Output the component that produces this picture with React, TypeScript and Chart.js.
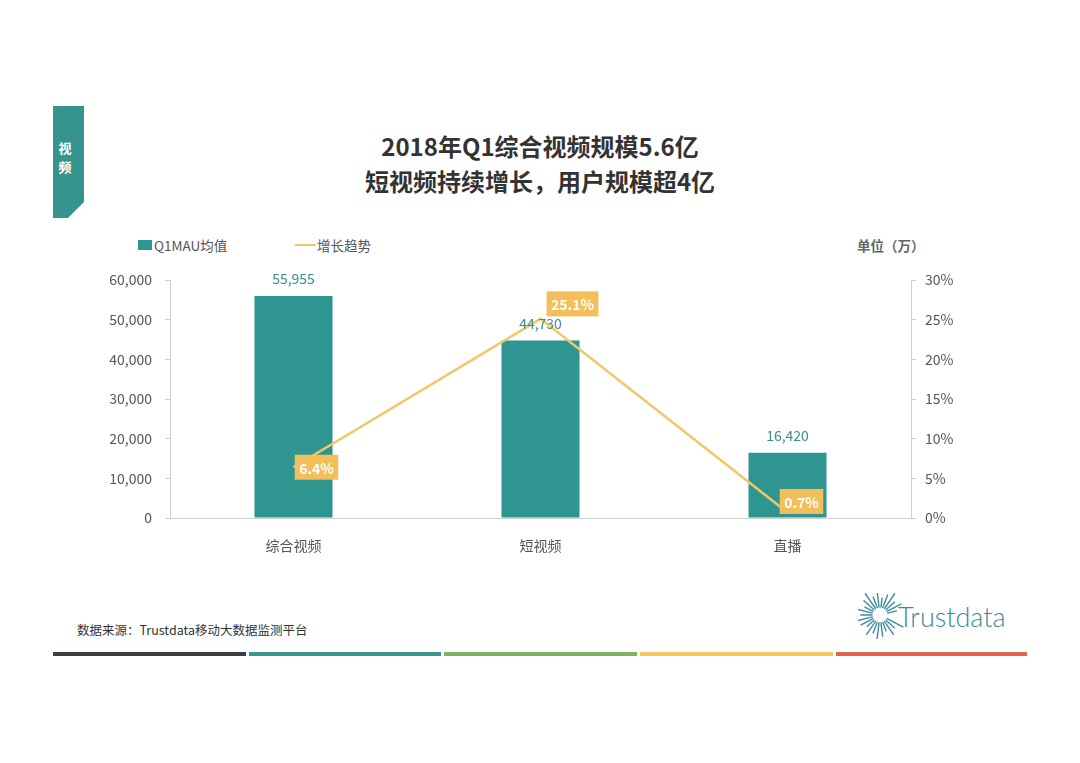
import React, { useEffect, useRef } from "react";
import { Chart, registerables } from "chart.js";

Chart.register(...registerables);

const categories = ["综合视频", "短视频", "直播"];
const mauValues = [55955, 44730, 16420];
const growthValues = [6.4, 25.1, 0.7];
const leftTickMax = 60000;
const leftTickStep = 10000;
const rightTickMax = 30;
const rightTickStep = 5;

const titleLines = ["2018年Q1综合视频规模5.6亿", "短视频持续增长，用户规模超4亿"];
const legendLabels = ["Q1MAU均值", "增长趋势"];
const unitLabel = "单位（万）";
const sourceText = "数据来源：Trustdata移动大数据监测平台";

// styling: where each growth label box sits relative to its point
const growthLabelOffsets = [
  { dx: 23, dy: 0 },
  { dx: 32, dy: -15 },
  { dx: 14, dy: -11 },
];

const TEAL = "#2E9590";
const GOLD = "#F0C86A";
const BOX = "#F2BF5B";
const FONT = "'Noto Sans CJK SC', 'Noto Sans', sans-serif";

const footerBars = [
  { left: 53, width: 193, color: "#3b3f45" },
  { left: 249, width: 192, color: "#3b9690" },
  { left: 444, width: 193, color: "#7db35e" },
  { left: 640, width: 193, color: "#f2c75c" },
  { left: 836, width: 191, color: "#e06352" },
];

const labelPlugin = {
  id: "valueLabels",
  afterDatasetsDraw(chart: any) {
    const ctx = chart.ctx;
    ctx.save();
    const barMeta = chart.getDatasetMeta(0);
    ctx.font = `14px ${FONT}`;
    ctx.fillStyle = "#3a8e8b";
    ctx.textAlign = "center";
    ctx.textBaseline = "middle";
    barMeta.data.forEach((el: any, i: number) => {
      ctx.fillText(mauValues[i].toLocaleString("en-US"), el.x, el.y - 17);
    });
    const lineMeta = chart.getDatasetMeta(1);
    ctx.font = `bold 14px ${FONT}`;
    lineMeta.data.forEach((el: any, i: number) => {
      const txt = growthValues[i].toFixed(1) + "%";
      const w = ctx.measureText(txt).width + 9;
      const h = 25;
      const cx = el.x + growthLabelOffsets[i].dx;
      const cy = el.y + growthLabelOffsets[i].dy;
      ctx.fillStyle = BOX;
      ctx.fillRect(cx - w / 2, cy - h / 2, w, h);
      ctx.fillStyle = "#ffffff";
      ctx.fillText(txt, cx, cy + 1);
    });
    ctx.restore();
  },
};

function ChartCanvas() {
  const ref = useRef<HTMLCanvasElement>(null);
  useEffect(() => {
    if (!ref.current) return;
    const chart = new Chart(ref.current, {
      type: "bar",
      data: {
        labels: categories,
        datasets: [
          {
            type: "bar",
            label: legendLabels[0],
            data: mauValues,
            backgroundColor: TEAL,
            yAxisID: "y",
            barPercentage: 0.316,
            categoryPercentage: 1,
            order: 2,
          },
          {
            type: "line",
            label: legendLabels[1],
            data: growthValues,
            borderColor: GOLD,
            borderWidth: 2.5,
            pointRadius: 0,
            tension: 0,
            yAxisID: "y1",
            order: 1,
          } as any,
        ],
      },
      options: {
        animation: false,
        responsive: false,
        maintainAspectRatio: false,
        layout: { padding: { top: 25, bottom: 0, left: 0, right: 0 } },
        plugins: {
          legend: { display: false },
          tooltip: { enabled: false },
          title: { display: false },
        },
        scales: {
          x: {
            grid: { display: false, drawTicks: false },
            border: { display: true, color: "#d0d0d0" },
            ticks: { padding: 19, color: "#555", font: { family: FONT, size: 14 } },
            afterFit(scale: any) {
              scale.height = 47;
            },
          },
          y: {
            position: "left",
            min: 0,
            max: leftTickMax,
            grid: { drawOnChartArea: false, tickLength: 5, color: "#cfcfcf" },
            border: { display: true, color: "#cfcfcf" },
            ticks: {
              stepSize: leftTickStep,
              padding: 13,
              color: "#555",
              font: { family: FONT, size: 14 },
              callback: (v: any) => Number(v).toLocaleString("en-US"),
            },
            afterFit(scale: any) {
              scale.width = 170;
            },
          },
          y1: {
            position: "right",
            min: 0,
            max: rightTickMax,
            grid: { drawOnChartArea: false, tickLength: 5, color: "#cfcfcf" },
            border: { display: true, color: "#cfcfcf" },
            ticks: {
              stepSize: rightTickStep,
              padding: 9,
              color: "#555",
              font: { family: FONT, size: 14 },
              callback: (v: any) => v + "%",
            },
            afterFit(scale: any) {
              scale.width = 169;
            },
          },
        },
      },
      plugins: [labelPlugin],
    });
    return () => chart.destroy();
  }, []);
  return (
    <canvas
      ref={ref}
      width={1080}
      height={310}
      style={{ position: "absolute", left: 0, top: 255, width: 1080, height: 310 }}
    />
  );
}

function Logo() {
  const rays = [];
  const n = 26;
  for (let i = 0; i < n; i++) {
    const a = (i / n) * Math.PI * 2;
    // leave a gap on the right where the text begins
    const deg = (a * 180) / Math.PI;
    if (deg > -20 && deg < 25) continue;
    const len = 9 + ((i * 7) % 5) * 2.2;
    const r0 = 8;
    rays.push(
      <line
        key={i}
        x1={22 + Math.cos(a) * r0}
        y1={22 + Math.sin(a) * r0}
        x2={22 + Math.cos(a) * (r0 + len)}
        y2={22 + Math.sin(a) * (r0 + len)}
        stroke="#3d8c9e"
        strokeWidth={1.4}
        strokeLinecap="round"
      />
    );
  }
  return (
    <div style={{ position: "absolute", left: 858, top: 593 }}>
      <svg width={46} height={46} style={{ position: "absolute", left: 0, top: 0 }}>
        {rays}
      </svg>
      <div
        style={{
          position: "absolute",
          left: 40,
          top: 9,
          fontFamily: "Lato, 'Open Sans', sans-serif",
          fontWeight: 300,
          fontSize: 27,
          lineHeight: "30px",
          color: "#3a8a98",
          whiteSpace: "nowrap",
        }}
      >
        Trustdata
      </div>
    </div>
  );
}

export default function App() {
  return (
    <div
      style={{
        position: "fixed",
        left: 0,
        top: 0,
        width: 1080,
        height: 763,
        background: "#ffffff",
        overflow: "hidden",
        fontFamily: FONT,
      }}
    >
      {/* side tab */}
      <svg width={40} height={120} style={{ position: "absolute", left: 53, top: 106 }}>
        <polygon points="0,0 31,0 31,96 15,112 0,112" fill="#36948F" />
      </svg>
      <div
        style={{
          position: "absolute",
          left: 53,
          top: 138,
          width: 24,
          textAlign: "center",
          color: "#fff",
          fontWeight: 700,
          fontSize: 13,
          lineHeight: "19px",
        }}
      >
        视<br />频
      </div>

      {/* title */}
      {titleLines.map((t, i) => (
        <div
          key={i}
          style={{
            position: "absolute",
            left: 0,
            width: 1080,
            top: 130 + i * 35,
            textAlign: "center",
            fontSize: 24,
            lineHeight: "32px",
            fontWeight: 700,
            color: "#333",
          }}
        >
          {t}
        </div>
      ))}

      {/* legend */}
      <div style={{ position: "absolute", left: 138, top: 240, width: 14, height: 10, background: TEAL }} />
      <div style={{ position: "absolute", left: 154, top: 235, fontSize: 13.5, lineHeight: "20px", color: "#555" }}>
        {legendLabels[0]}
      </div>
      <div style={{ position: "absolute", left: 295, top: 244, width: 21, height: 2, background: GOLD }} />
      <div style={{ position: "absolute", left: 317, top: 235, fontSize: 13.5, lineHeight: "20px", color: "#555" }}>
        {legendLabels[1]}
      </div>
      <div
        style={{
          position: "absolute",
          left: 857,
          top: 235,
          fontSize: 13.5,
          lineHeight: "20px",
          fontWeight: 700,
          color: "#666",
        }}
      >
        {unitLabel}
      </div>

      <ChartCanvas />

      {/* footer */}
      <div style={{ position: "absolute", left: 77, top: 621, fontSize: 12.5, lineHeight: "18px", color: "#333" }}>
        {sourceText}
      </div>
      {footerBars.map((b, i) => (
        <div
          key={i}
          style={{ position: "absolute", left: b.left, top: 652, width: b.width, height: 4, background: b.color }}
        />
      ))}
      <Logo />
    </div>
  );
}
